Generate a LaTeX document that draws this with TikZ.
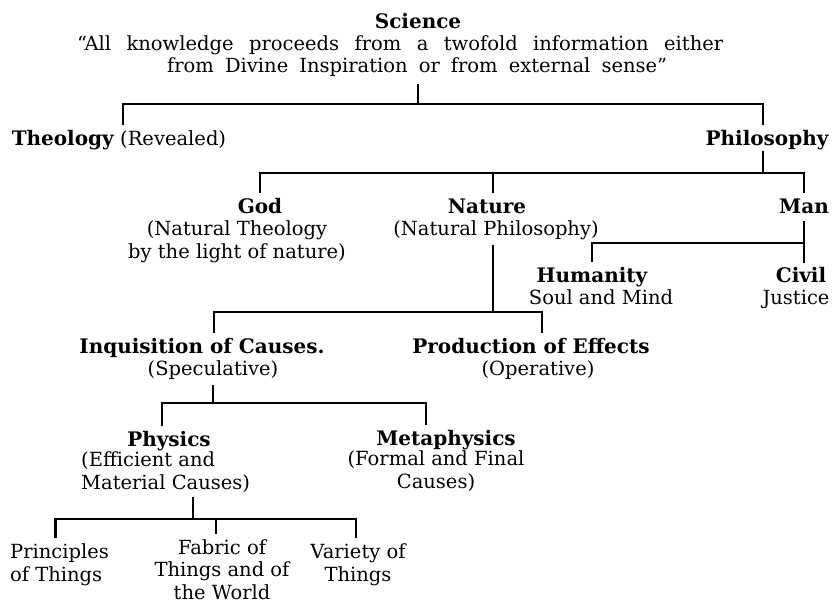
\documentclass[tikz,border=0pt]{standalone}
\usepackage{fontspec}
\setmainfont{DejaVu Serif}
\newcommand\fsz{\fontsize{19.5}{22.5}\selectfont}
\newcommand\fbz{\fontsize{20}{22.5}\selectfont\bfseries}
\begin{document}
\begin{tikzpicture}[x=1pt,y=-1pt,
  t/.style={inner sep=0pt,font=\fsz,align=center,anchor=base},
  b/.style={t,font=\fbz},
  ln/.style={line width=2.2pt}]
\useasboundingbox (0,0) rectangle (833,603);
\fill[white] (0,0) rectangle (833,603);
% nodes (multi-line nodes are placed at the baseline of their last line)
\node[b] (sci) at (418,28) {Science};
\node[t,anchor=base west] (q1) at (77,50) {\makebox[646pt][s]{``All knowledge proceeds from a twofold information either}};
\node[t,anchor=base west] (q2) at (167,72) {\makebox[500pt][s]{from Divine Inspiration or from external sense''}};
\node[b,anchor=base east] (theo) at (114,145) {Theology};
\node[t,anchor=base west] (rev) at (120,145) {(Revealed)};
\node[b] (phil) at (767,145) {Philosophy};
\node[b] (god) at (260,213) {God};
\node[t] (godsub) at (237,258) {(Natural Theology\\by the light of nature)};
\node[b] (nat) at (487,213) {Nature};
\node[t] (natsub) at (496,235) {(Natural Philosophy)};
\node[b] (man) at (804,213) {Man};
\node[b] (hum) at (592,282) {Humanity};
\node[t] (soul) at (601,304) {Soul and Mind};
\node[b] (civ) at (801,282) {Civil};
\node[t] (just) at (796,304) {Justice};
\node[b] (inq) at (202,353) {Inquisition of Causes.};
\node[t] (spec) at (213,375) {(Speculative)};
\node[b] (prod) at (531,353) {Production of Effects};
\node[t] (oper) at (538,375) {(Operative)};
\node[b] (phys) at (169,446) {Physics};
\node[t,align=left,anchor=base west] (physsub) at (81,489) {(Efficient and\\Material Causes)};
\node[b] (meta) at (446,445) {Metaphysics};
\node[t] (metasub) at (436,488) {(Formal and Final\\Causes)};
\node[t,align=left,anchor=base west] (prin) at (10,581) {Principles\\of Things};
\node[t] (fab) at (222,599) {Fabric of\\Things and of\\the World};
\node[t] (var) at (358,581) {Variety of\\Things};
% junctions
\coordinate (j1) at (418,104);
\coordinate (j2) at (763,173);
\coordinate (j3) at (803,243);
\coordinate (j4) at (493,312);
\coordinate (j5) at (216,403);
\coordinate (j6) at (193,519);
\coordinate (fabtop) at ([xshift=-6pt]fab.north);
\coordinate (nattop) at ([xshift=6pt]nat.north);
% connectors
\draw[ln,shorten <=8pt] (sci |- q2.south) -- (j1);
\draw[ln,shorten <=5pt,shorten >=5pt] ([xshift=3pt]rev.north west) |- (j1) -| ([xshift=-4pt]phil.north);
\draw[ln,shorten <=1pt] ([xshift=-4pt]phil.south) -- (j2);
\draw[ln,shorten <=5pt,shorten >=5pt] (god.north) |- (j2) -| (man.north);
\draw[ln,shorten >=5pt] (nattop |- j2) -- (nattop);
\draw[ln,shorten <=8pt,shorten >=4pt] (man.south) -- (man.south |- civ.north);
\draw[ln,shorten <=5pt] (hum.north) |- (j3);
\draw[ln,shorten <=5pt] (j4 |- natsub.south) -- (j4);
\draw[ln,shorten <=5pt,shorten >=5pt] ([xshift=12pt]inq.north) |- (j4) -| ([xshift=11pt]prod.north);
\draw[ln,shorten <=6pt] (spec.south) -- (spec.south |- j5);
\draw[ln,shorten <=5pt,shorten >=5pt] ([xshift=-7pt]phys.north) |- (j5) -| ([xshift=-20pt]meta.north);
\draw[ln,shorten <=5pt] (j6 |- physsub.south) -- (j6);
\draw[ln,shorten <=5pt,shorten >=5pt] ([xshift=-4pt]prin.north) |- (j6) -| ([xshift=-2pt]var.north);
\draw[ln,shorten >=5pt] (fabtop |- j6) -- (fabtop);
\end{tikzpicture}
\end{document}
